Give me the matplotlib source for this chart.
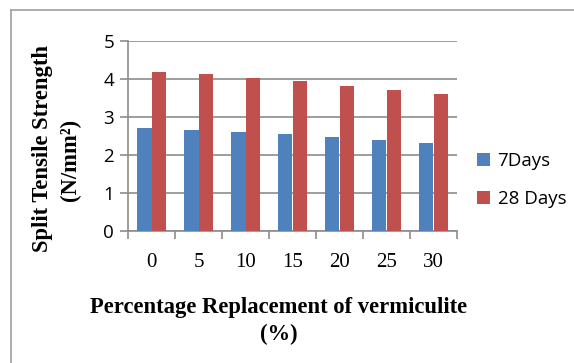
import numpy as np
import matplotlib.pyplot as plt
from matplotlib.lines import Line2D

categories = ['0', '5', '10', '15', '20', '25', '30']
days7 = [2.71, 2.67, 2.61, 2.55, 2.48, 2.39, 2.32]
days28 = [4.18, 4.12, 4.03, 3.94, 3.82, 3.71, 3.60]
series_names = ['7Days', '28 Days']

W, H = 574, 363
fig = plt.figure(figsize=(W / 100, H / 100), dpi=100)

# plot area in pixels: x 128..457, y 41..231
ax = fig.add_axes([128 / W, 1 - 231 / H, (457 - 128) / W, (231 - 41) / H])

x = np.arange(len(categories))
bw = 0.3
ax.bar(x - bw / 2, days7, bw, color='#4f81bd', label=series_names[0], zorder=3)
ax.bar(x + bw / 2, days28, bw, color='#c0504d', label=series_names[1], zorder=3)

ax.set_xlim(-0.5, len(categories) - 0.5)
ax.set_ylim(0, 5)
ax.set_yticks(range(6))
ax.yaxis.grid(True, color='#8c8c8c', linewidth=1.2, zorder=0)

ax.set_xticks(x)
ax.set_xticklabels(categories, family='Liberation Serif', fontsize=15)
ax.set_xticks(np.arange(-0.5, len(categories)), minor=True)
ax.tick_params(axis='x', which='major', length=0, pad=16)
ax.tick_params(axis='x', which='minor', length=6, width=1.2, color='#8c8c8c', direction='out')
ax.tick_params(axis='y', length=6, width=1.2, color='#8c8c8c', labelsize=13.5, pad=4)
for lab in ax.get_yticklabels():
    lab.set_family('Open Sans')

for s in ['top', 'right']:
    ax.spines[s].set_visible(False)
for s in ['left', 'bottom']:
    ax.spines[s].set_color('#8c8c8c')
    ax.spines[s].set_linewidth(1.2)

lab_font = dict(family='Liberation Serif', weight='bold', fontsize=16.3)
fig.text(279 / W, 1 - 307 / H, 'Percentage Replacement of vermiculite',
         ha='center', va='center', **lab_font)
fig.text(279 / W, 1 - 334 / H, '(%)', ha='center', va='center', **lab_font)

fig.text(43 / W, 1 - 149 / H, 'Split Tensile Strength', rotation=90,
         ha='center', va='center', **lab_font)
fig.text(70 / W, 1 - 160 / H, '(N/mm²)', rotation=90,
         ha='center', va='center', **lab_font)

leg = fig.legend(loc='center left', bbox_to_anchor=(477 / W, 1 - 180 / H),
                 frameon=False, prop={'family': 'Open Sans', 'size': 13.5},
                 handlelength=0.7, handleheight=0.7, handletextpad=0.4,
                 labelspacing=1.1, borderaxespad=0, borderpad=0)

# outer frame (left and top edges visible)
fig.add_artist(Line2D([10.5 / W, 10.5 / W], [0, 1 - 9.5 / H], color='#a0a0a0', linewidth=1.2))
fig.add_artist(Line2D([10.5 / W, 1], [1 - 9.5 / H, 1 - 9.5 / H], color='#a0a0a0', linewidth=1.2))

fig.savefig('out.png', dpi=100)
